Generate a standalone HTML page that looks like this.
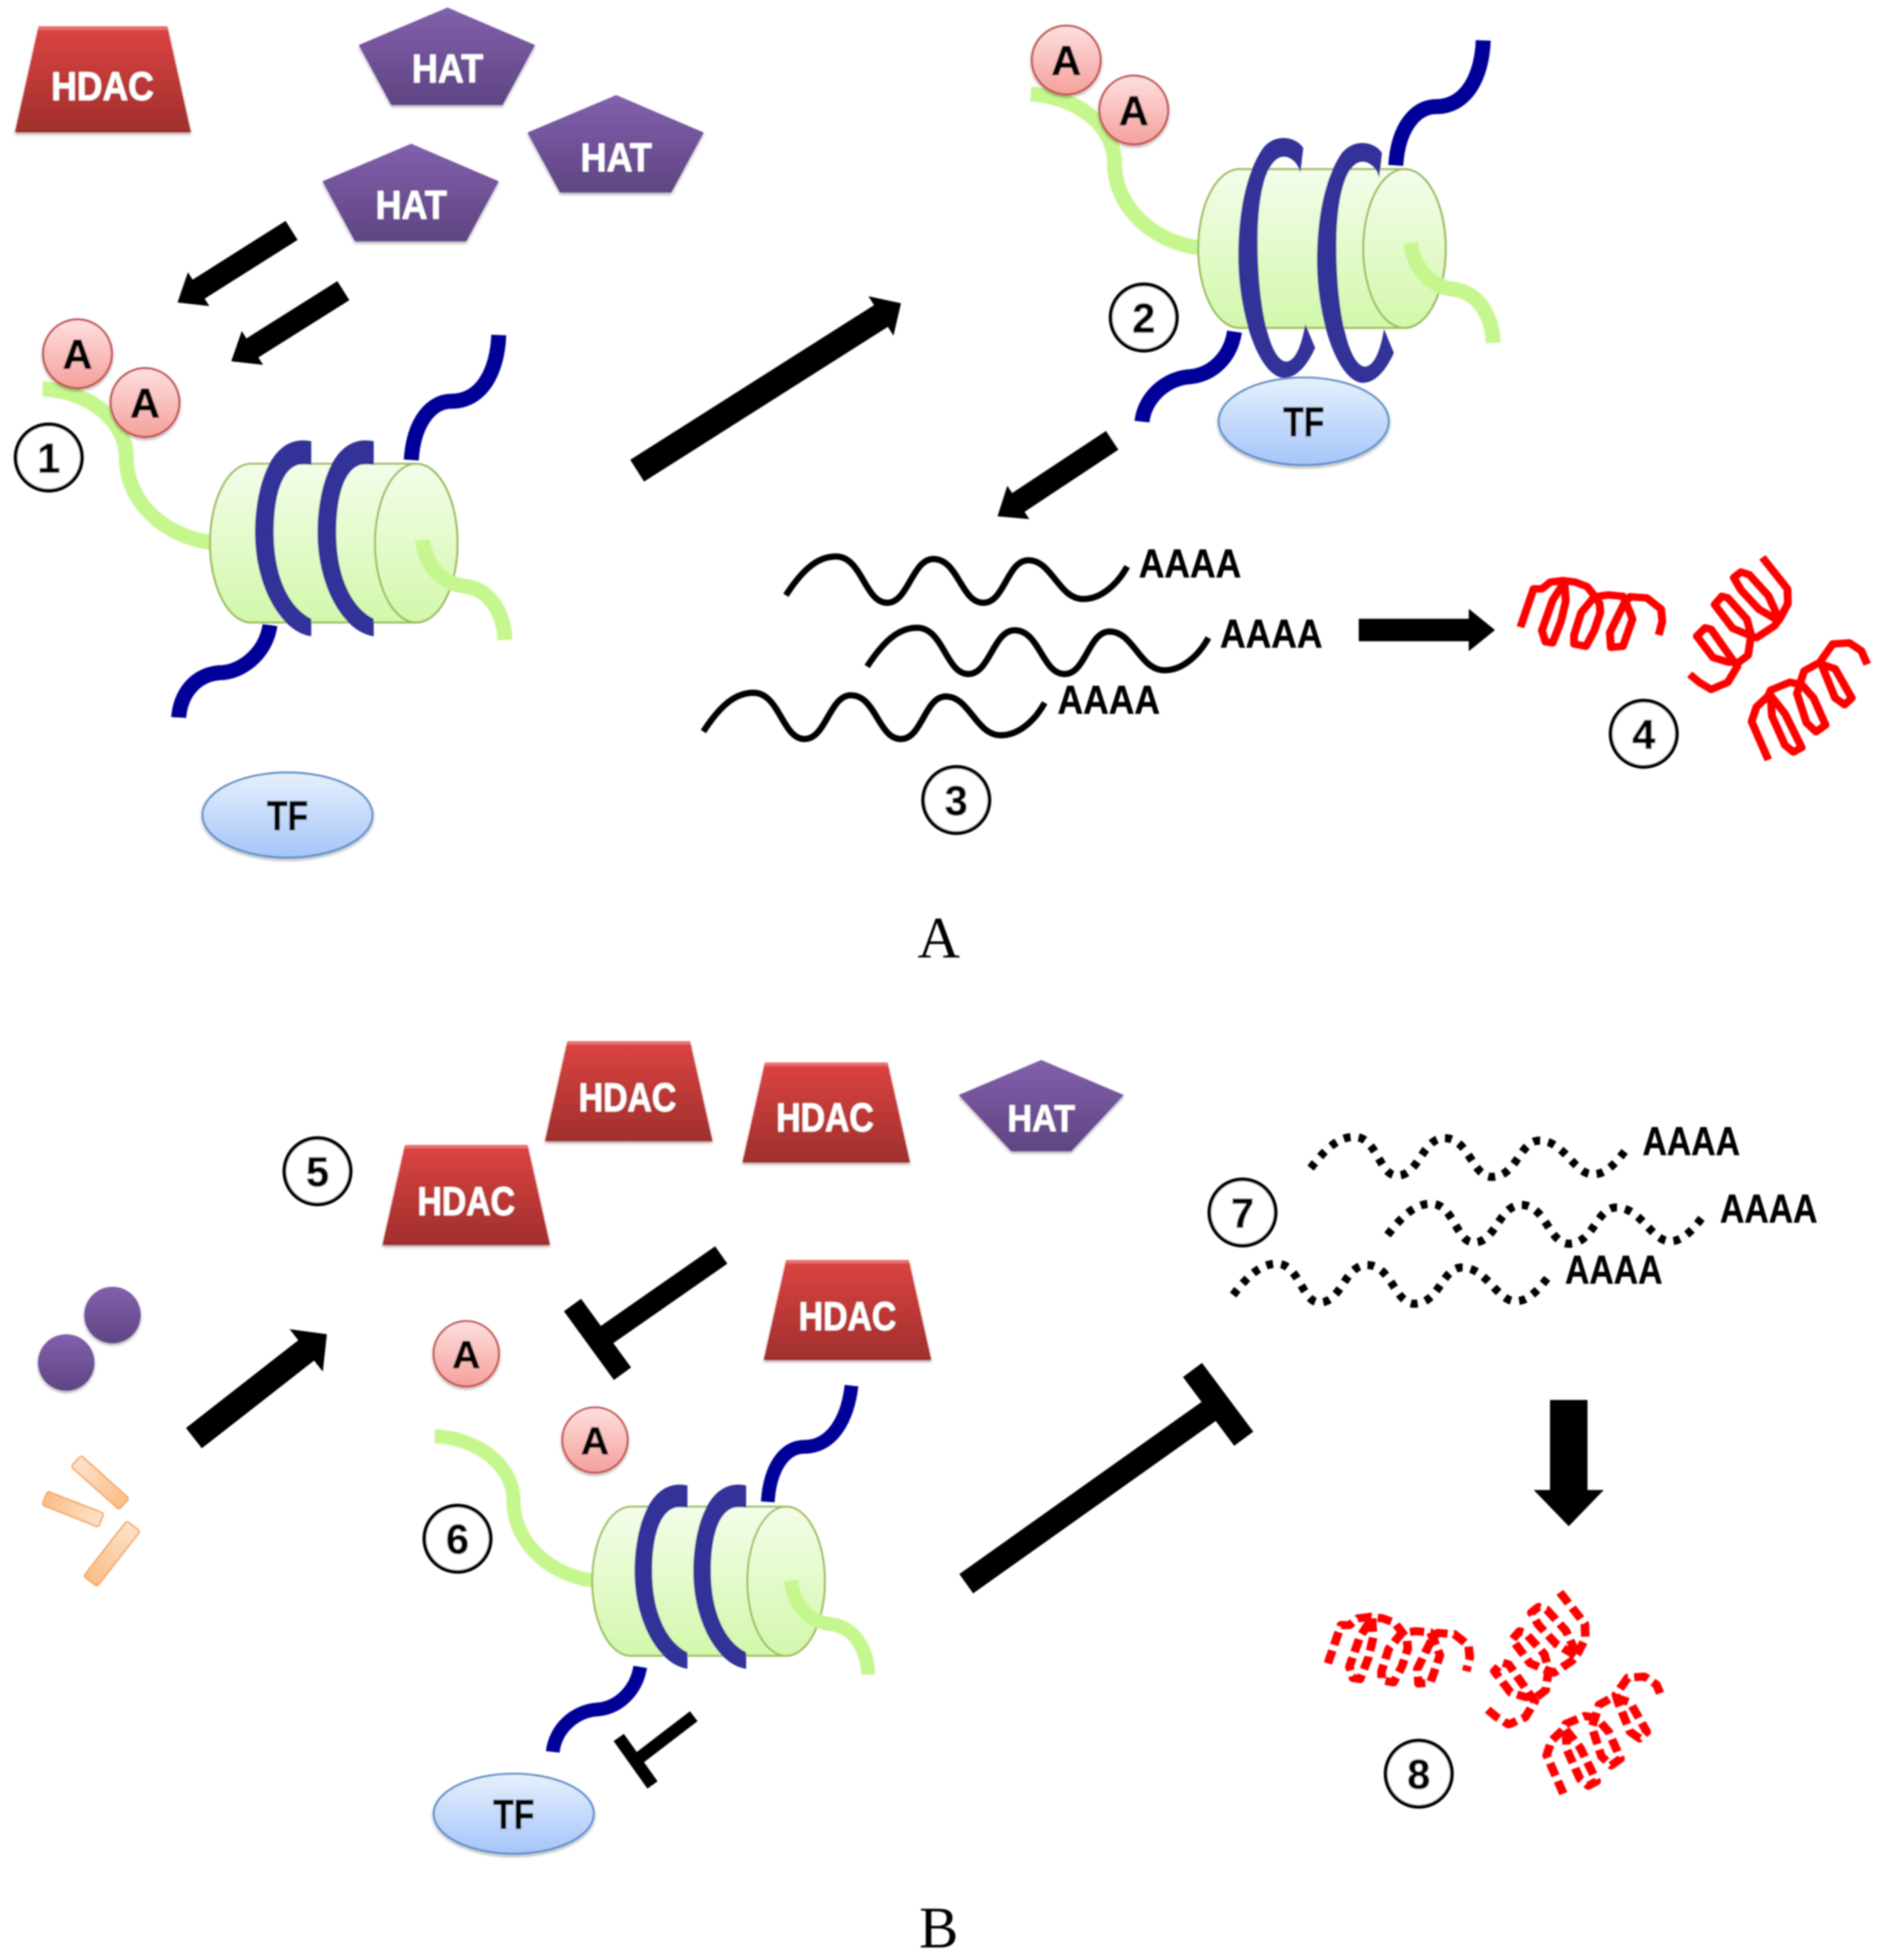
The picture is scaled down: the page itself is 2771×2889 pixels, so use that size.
<!DOCTYPE html>
<html><head><meta charset="utf-8"><style>html,body{margin:0;padding:0;background:#fff}svg{display:block}
text{font-family:"Liberation Sans",sans-serif;font-weight:bold;text-anchor:middle}
.w{fill:#fff;font-size:32px;stroke:#fff;stroke-width:.4px}.k{fill:#000;font-size:33px;stroke:#000;stroke-width:.5px}.a{fill:#000;font-size:32px;text-anchor:start;stroke:#000;stroke-width:.3px}
.s{font-family:"Liberation Serif",serif;font-weight:normal;font-size:47px;fill:#000}
</style></head><body>
<svg xmlns="http://www.w3.org/2000/svg" width="2771" height="2889" viewBox="0 0 1504 1568">
<defs>
<linearGradient id="gr" x1="0" y1="0" x2="0" y2="1"><stop offset="0" stop-color="#dc4441"/><stop offset="1" stop-color="#9f2f2d"/></linearGradient>
<linearGradient id="gp" x1="0" y1="0" x2="0" y2="1"><stop offset="0" stop-color="#8260ad"/><stop offset="1" stop-color="#5f4583"/></linearGradient>
<linearGradient id="gc" x1="0" y1="0" x2="0" y2="1"><stop offset="0" stop-color="#f4fdea"/><stop offset="1" stop-color="#d2f8ab"/></linearGradient>
<linearGradient id="gb" x1="0" y1="0" x2="0" y2="1"><stop offset="0" stop-color="#e6f0fd"/><stop offset="1" stop-color="#a5c5f9"/></linearGradient>
<linearGradient id="gk" x1="0" y1="0" x2="0" y2="1"><stop offset="0" stop-color="#fde0de"/><stop offset="1" stop-color="#f5a09c"/></linearGradient>
<linearGradient id="go" x1="0" y1="0" x2="1" y2="0"><stop offset="0" stop-color="#fbbd86"/><stop offset="1" stop-color="#fde2cc"/></linearGradient>
<linearGradient id="go2" x1="0" y1="0" x2="1" y2="0"><stop offset="0" stop-color="#fde2cc"/><stop offset="1" stop-color="#fbbd86"/></linearGradient>
<filter id="sh" x="-10%" y="-10%" width="120%" height="125%"><feDropShadow dx="0" dy="1.5" stdDeviation="1.2" flood-color="#000" flood-opacity=".35"/></filter>
<filter id="bl" x="-5%" y="-5%" width="110%" height="110%"><feGaussianBlur stdDeviation=".6"/></filter>
<g id="trap" filter="url(#sh)"><polygon points="18,0 116,0 134,80 0,80" fill="url(#gr)"/><line x1="18" y1="1.5" x2="116" y2="1.5" stroke="#e8716d" stroke-width="2.5"/></g>
<polygon id="pent" points="71,0 141,30 115,78 26,78 0,30" fill="url(#gp)" filter="url(#sh)"/>
<path id="core" d="M200,370H332A33,63.5 0 0 1 332,497H200A33,63.5 0 0 1 200,370Z" fill="url(#gc)" stroke="#9bbb59" stroke-width="1.6"/>
<ellipse id="cap" cx="332" cy="433.5" rx="33" ry="63.5" fill="url(#gc)" stroke="#9bbb59" stroke-width="1.6"/>
<path id="lt" d="M33,310C70,312 100,335 100,365C100,400 130,428 168,433" fill="none" stroke="#c6f78f" stroke-width="12"/>
<path id="rt" d="M334,433C337,455 350,468 368,470C387,472 399,490 400,513" fill="none" stroke="#c6f78f" stroke-width="12"/>
<path id="band" d="M248,352C215,345 203,390 203,425C203,470 225,505 248,508L248,494C230,485 218,460 218,425C218,395 225,365 248,371Z" fill="#333399"/>
<path id="lband" d="M1040,118C1034,109 1018,106 1008,118C994,138 988,170 988,205C988,250 1004,300 1024,302C1036,302 1044,290 1049.5,278L1041.6,259C1039,275 1034,289 1026,289C1012,287 1003.5,240 1003.5,193C1003.5,150 1012,125 1024.5,125C1030,125 1036,130 1037.7,138Z" fill="#333399"/>
<path id="wave" d="M627,475C640,455 652,444 667,444C688,444 690,481 708,481C725,481 728,446 745,446C765,446 767,481 785,481C802,481 804,447 821,447C840,447 845,478 865,478C880,478 893,465 900,452" fill="none" stroke="#000" stroke-width="5"/>
<path id="dot" d="M1047,932C1058,918 1068,907 1082,907C1100,907 1102,938 1116,938C1134,938 1136,908 1154,908C1174,908 1176,939 1192,939C1212,939 1214,910 1230,910C1250,910 1258,937 1273,937C1285,937 1293,925 1302,914" fill="none" stroke="#000" stroke-width="6.5" stroke-dasharray="5.5 6.5"/>
<g id="h1" transform="translate(1204.9,428.8) scale(.1907,.18)" fill="none" stroke="#f00" stroke-linejoin="round"><path d="M60,405L115,235L150,235L185,205L240,198L290,205L340,225L370,265L392,300L395,340L370,420L335,490L285,480L285,440L315,340L370,270L430,262L490,268L520,340L530,370L490,490L440,495L435,430L495,300L520,270L590,275L650,325L655,380L640,440"/><path d="M245,205L250,290L230,380L195,475L165,470L150,420L195,285Z"/></g>
<g id="h2" transform="translate(1204.9,428.8) scale(.1907,.18)" fill="none" stroke="#f00" stroke-linejoin="round"><path d="M1075,95L1180,235L1182,300L1150,365L1125,400L1050,452L1018,440L950,410L875,305L905,268L930,275L1010,370L1028,440L1015,530L975,562L930,560L868,540L800,445L835,408L860,415L930,520L970,580L930,650L860,682L810,650L770,615"/><path d="M1140,375L1060,325L985,240L955,185L985,160L1020,172L1100,265L1130,335Z"/></g>
<g id="h3" transform="translate(1204.9,428.8) scale(.1907,.18)" fill="none" stroke="#f00" stroke-linejoin="round"><path d="M1100,995L1030,825L1050,760L1100,710L1110,685L1190,650L1240,660L1290,720L1340,840L1300,870L1260,830L1220,700L1250,600L1310,565L1380,590L1450,720L1420,750L1380,720L1330,590L1320,555L1370,480L1440,475L1490,510L1515,570"/><path d="M1110,710L1170,790L1240,940L1205,960L1170,930L1115,800Z"/></g>
<g id="A"><circle r="27.5" fill="url(#gk)" stroke="#c0504d" stroke-width="1.6" filter="url(#sh)"/><text y="12" class="k">A</text></g>
<g id="N"><circle r="26.5" fill="#fff" stroke="#000" stroke-width="3"/></g>
</defs>
<rect width="1504" height="1568" fill="#fff"/>
<g filter="url(#bl)">
<use href="#trap" transform="translate(12,21) scale(1.05,1.06)"/><text x="82" y="80" class="w" textLength="82" lengthAdjust="spacingAndGlyphs">HDAC</text>
<use href="#pent" x="287" y="6"/><text x="358" y="66" class="w" textLength="57" lengthAdjust="spacingAndGlyphs">HAT</text>
<use href="#pent" x="422" y="76"/><text x="493" y="137" class="w" textLength="57" lengthAdjust="spacingAndGlyphs">HAT</text>
<use href="#pent" x="258" y="115"/><text x="329" y="175" class="w" textLength="57" lengthAdjust="spacingAndGlyphs">HAT</text>
<polygon transform="translate(142,242) rotate(147.7)" points="0,0 -20,-16 -20,-9 -108,-9 -108,9 -20,9 -20,16"/>
<polygon transform="translate(185,289) rotate(147.8)" points="0,0 -20,-16 -20,-9 -106,-9 -106,9 -20,9 -20,16"/>
<polygon transform="translate(720.8,242.6) rotate(-32.4)" points="0,0 -19,-18.7 -19,-10.3 -250,-10.3 -250,10.3 -19,10.3 -19,18.7"/>
<polygon transform="translate(798,413) rotate(146.5)" points="0,0 -20,-16 -20,-9 -110,-9 -110,9 -20,9 -20,16"/>
<polygon points="1196,504 1175,487 1175,495 1087,495 1087,513 1175,513 1175,521"/>
<g transform="translate(1,1)">
<use href="#lt"/>
<use href="#core"/><use href="#cap"/>
<path d="M328,367C330,335 345,320 360,320C385,320 397,295 398,267" fill="none" stroke="#000099" stroke-width="12"/>
<path d="M215,499C212,520 195,535 178,537C155,537 143,555 142,573" fill="none" stroke="#000099" stroke-width="12"/>
<use href="#band"/><use href="#band" x="50"/>
<use href="#rt" x="3" y="-2"/>
</g>
<use href="#A" x="62" y="283"/><use href="#A" x="116" y="322"/>
<use href="#N" x="39" y="366"/><text x="39" y="378" class="k">1</text>
<ellipse cx="230" cy="652" rx="68" ry="34" fill="url(#gb)" stroke="#5b8fc8" stroke-width="1.6" filter="url(#sh)"/><text x="230" y="664" class="k" textLength="33" lengthAdjust="spacingAndGlyphs">TF</text>
<g transform="translate(2.6,.3)">
<g transform="translate(789,-235)"><use href="#lt"/><use href="#core"/><use href="#cap"/><use href="#rt" x="3" y="-4"/></g>
<path d="M1114,132C1116,100 1131,85 1146,85C1171,85 1183,60 1184,32" fill="none" stroke="#000099" stroke-width="12"/>
<path d="M985,265C982,285 968,299 950,301C930,302 913,318 911,337" fill="none" stroke="#000099" stroke-width="12"/>
<use href="#lband"/><use href="#lband" x="63" y="4"/>
</g>
<use href="#A" x="853" y="48"/><use href="#A" x="907" y="88"/>
<use href="#N" x="915" y="254"/><text x="915" y="266" class="k">2</text>
<ellipse cx="1043" cy="337" rx="68" ry="35" fill="url(#gb)" stroke="#5b8fc8" stroke-width="1.6" filter="url(#sh)"/><text x="1043" y="349" class="k" textLength="33" lengthAdjust="spacingAndGlyphs">TF</text>
<g transform="translate(1.7,1.2)"><use href="#wave"/><use href="#wave" x="65" y="57"/><use href="#wave" x="-66" y="109"/></g>
<text x="911" y="462" class="a" textLength="82" lengthAdjust="spacingAndGlyphs">AAAA</text>
<text x="976" y="518" class="a" textLength="82" lengthAdjust="spacingAndGlyphs">AAAA</text>
<text x="846" y="571" class="a" textLength="82" lengthAdjust="spacingAndGlyphs">AAAA</text>
<use href="#N" x="765" y="640"/><text x="765" y="652" class="k">3</text>
<use href="#N" x="1315" y="587"/><text x="1315" y="599" class="k">4</text>
<g style="stroke-width:33"><use href="#h1"/><use href="#h2"/><use href="#h3"/></g>
<text x="751" y="766" class="s">A</text>
<text x="751" y="1558" class="s">B</text>
<use href="#trap" x="436" y="833"/><text x="502" y="889" class="w" textLength="78" lengthAdjust="spacingAndGlyphs">HDAC</text>
<use href="#trap" x="594" y="850"/><text x="660" y="905" class="w" textLength="78" lengthAdjust="spacingAndGlyphs">HDAC</text>
<use href="#trap" x="306" y="916"/><text x="373" y="972" class="w" textLength="78" lengthAdjust="spacingAndGlyphs">HDAC</text>
<use href="#trap" x="611" y="1008"/><text x="678" y="1064" class="w" textLength="78" lengthAdjust="spacingAndGlyphs">HDAC</text>
<polygon points="833,848 899,876 857,921 809,921 767,876" fill="url(#gp)" filter="url(#sh)"/><text x="833" y="905" class="w" style="font-size:30px" textLength="54" lengthAdjust="spacingAndGlyphs">HAT</text>
<use href="#N" x="254" y="937"/><text x="254" y="949" class="k">5</text>
<circle cx="90" cy="1052" r="22.6" fill="url(#gp)" filter="url(#sh)"/><circle cx="53" cy="1090" r="22.6" fill="url(#gp)" filter="url(#sh)"/>
<g stroke="#f5a868" stroke-width="1.3">
<rect x="-25.7" y="-6" width="51.5" height="12" rx="2" fill="url(#go2)" transform="translate(80,1186) rotate(41.9)"/>
<rect x="-24.2" y="-5.9" width="48.5" height="11.8" rx="2" fill="url(#go)" transform="translate(58.3,1207.3) rotate(21.4)"/>
<rect x="-28" y="-6.8" width="56" height="13.6" rx="2" fill="url(#go)" transform="translate(89.5,1243) rotate(-52)"/>
</g>
<polygon transform="translate(261.5,1067.4) rotate(-38)" points="0,0 -21,-21.6 -21,-10.3 -135,-10.3 -135,10.3 -21,10.3 -21,21.6"/>
<g stroke="#000" fill="none"><path d="M577,1004L478,1073" stroke-width="17"/><path d="M458,1044L498,1099" stroke-width="17"/>
<path d="M773,1267L977,1122" stroke-width="19"/><path d="M954,1096L995,1151" stroke-width="19"/>
<path d="M555,1373L508,1409" stroke-width="10"/><path d="M495,1390L522,1428" stroke-width="10"/></g>
<polygon points="1240,1120 1270,1120 1270,1192 1283,1192 1255,1221 1227,1192 1240,1192"/>
<g transform="translate(1.2,1.5)">
<g transform="translate(315.6,856) scale(.94)"><use href="#lt"/><use href="#core"/><use href="#cap"/></g>
<path d="M613,1200C615,1170 628,1156 642,1156C665,1156 677,1133 680,1107" fill="none" stroke="#000099" stroke-width="11"/>
<path d="M511,1332C508,1350 495,1364 478,1366C458,1367 443,1382 441,1400" fill="none" stroke="#000099" stroke-width="11"/>
<g transform="translate(315.6,856) scale(.94)"><use href="#band"/><use href="#band" x="50"/><use href="#rt" x="2"/></g>
</g>
<use href="#A" transform="translate(373,1083) scale(.95)"/><use href="#A" transform="translate(476,1152) scale(.95)"/>
<use href="#N" x="366" y="1231"/><text x="366" y="1243" class="k">6</text>
<ellipse cx="411" cy="1451" rx="64" ry="32" fill="url(#gb)" stroke="#5b8fc8" stroke-width="1.6" filter="url(#sh)"/><text x="411" y="1463" class="k" textLength="33" lengthAdjust="spacingAndGlyphs">TF</text>
<g transform="translate(1.5,2.5)"><use href="#dot"/><use href="#dot" x="61.5" y="53.5"/><use href="#dot" x="-62" y="101.5"/></g>
<text x="1314" y="924" class="a" textLength="78" lengthAdjust="spacingAndGlyphs">AAAA</text>
<text x="1376" y="978" class="a" textLength="78" lengthAdjust="spacingAndGlyphs">AAAA</text>
<text x="1252" y="1027" class="a" textLength="78" lengthAdjust="spacingAndGlyphs">AAAA</text>
<use href="#N" x="994" y="970"/><text x="994" y="982" class="k">7</text>
<use href="#N" x="1135" y="1419"/><text x="1135" y="1431" class="k">8</text>
<g style="stroke-width:36;stroke-dasharray:60 26">
<use href="#h1" transform="translate(-154,829)"/>
<use href="#h2" transform="translate(-162,828)"/>
<use href="#h3" transform="translate(-164,827)"/>
</g>
</g>
</svg>
</body></html>
